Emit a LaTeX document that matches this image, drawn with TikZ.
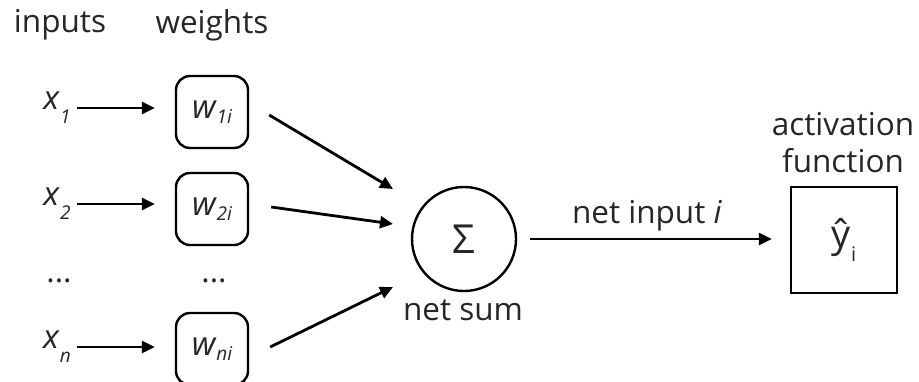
\documentclass[tikz,border=0pt]{standalone}
\usepackage{fontspec}
\setmainfont{Open Sans}
\usetikzlibrary{arrows.meta}
\newcommand\wlab[2]{{\fontsize{33}{33}\selectfont\itshape #1}\kern1pt\raisebox{-0.45em}{\fontsize{19}{19}\selectfont\itshape #2}}
\begin{document}
\begin{tikzpicture}[x=1pt,y=-1pt,
  lbl/.style={font=\fontsize{31.5}{37}\selectfont, text=black!85, inner sep=0pt},
  xlbl/.style={lbl, inner xsep=6pt},
  wbox/.style={draw, rounded corners=14pt, line width=2.4pt, minimum width=72pt, minimum height=72pt, inner sep=0pt, text=black!85},
  arr/.style={-{Triangle[length=13pt,width=12pt]}, line width=2.8pt},
]
\useasboundingbox (0,0) rectangle (919,381);
\node[lbl] (inputs) at (60,25) {inputs};
\node[lbl] (weights) at (212,25) {weights};

\node[xlbl] (x1) at (57,108) {\wlab{x}{1}};
\node[xlbl] (x2) at (57,204) {\wlab{x}{2}};
\node[lbl] (d1) at (59,281) {...};
\node[xlbl] (xn) at (57,347) {\wlab{x}{n}};

\node[wbox] (w1) at (212,112) {\wlab{w}{1i}};
\node[wbox] (w2) at (212,209) {\wlab{w}{2i}};
\node[lbl] (d2) at (214,281) {...};
\node[wbox] (wn) at (212,349) {\wlab{w}{ni}};

\draw[arr, shorten >=20pt] (x1) -- (x1 -| w1.west);
\draw[arr, shorten >=20pt] (x2) -- (x2 -| w2.west);
\draw[arr, shorten >=20pt] (xn) -- (xn -| wn.west);

\node[draw, circle, minimum size=104pt, line width=2.4pt, inner sep=0pt, font=\fontsize{40}{40}\selectfont, text=black!85] (sum) at (464,239) {Σ};
\node[lbl] (netsum) at (463,310) {net sum};

\coordinate (e1) at (393,189);
\coordinate (e2) at (393,224);
\coordinate (e3) at (393,287);
\draw[arr] ([shift={(20,3)}]w1.east) -- (e1);
\draw[arr] ([shift={(22,-2)}]w2.east) -- (e2);
\draw[arr] ([shift={(21,-2)}]wn.east) -- (e3);

\node[draw, minimum size=106pt, line width=2.5pt, inner sep=0pt, text=black!85] (yhat) at (844,240) {\fontsize{38}{38}\selectfont ŷ\raisebox{-0.35em}{\fontsize{20}{20}\selectfont i}};
\node[lbl, align=center] (act) at (843,143) {activation\\function};

\draw[arr, shorten <=13pt, shorten >=18pt] (sum.east) -- (yhat.west |- sum.east);
\node[lbl] (netin) at (647,216) {net input \textit{i}};
\end{tikzpicture}
\end{document}
